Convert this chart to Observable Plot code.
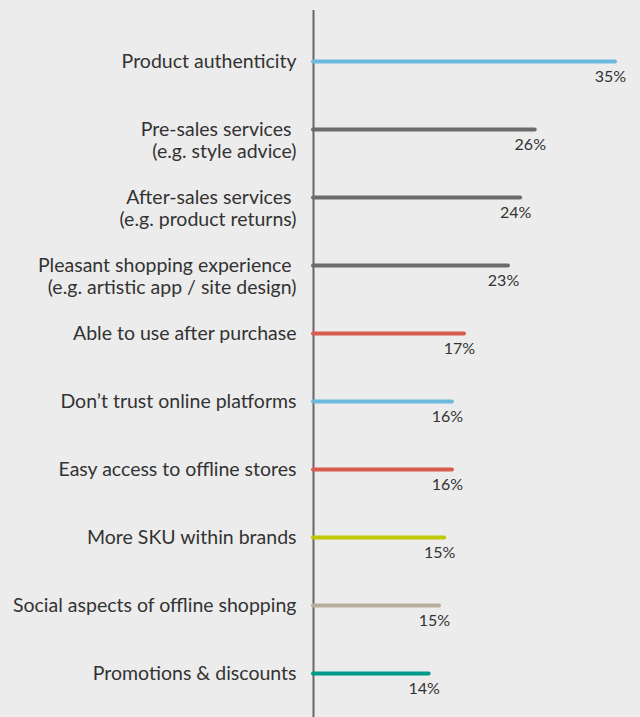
<!DOCTYPE html>
<html>
<head>
<meta charset="utf-8">
<script src="https://cdn.jsdelivr.net/npm/d3@7"></script>
<script src="https://cdn.jsdelivr.net/npm/@observablehq/plot@0.6"></script>
<style>
  html, body { margin: 0; padding: 0; background: #ececec; }
  #chart svg { display: block; background: #ececec; }
</style>
</head>
<body>
<div id="chart"></div>
<script>
const categories = [
  "Product authenticity",
  "Pre-sales services\u00a0\n(e.g. style advice)",
  "After-sales services\u00a0\n(e.g. product returns)",
  "Pleasant shopping experience\u00a0\n(e.g. artistic app / site design)",
  "Able to use after purchase",
  "Don\u2019t trust online platforms",
  "Easy access to offline stores",
  "More SKU within brands",
  "Social aspects of offline shopping",
  "Promotions & discounts"
];
const values = [35.0, 25.7, 24.0, 22.6, 17.5, 16.1, 16.1, 15.2, 14.6, 13.4];
const valueLabels = ["35%", "26%", "24%", "23%", "17%", "16%", "16%", "15%", "15%", "14%"];
const barColors = ["#6cb9dc", "#6b6b6b", "#6b6b6b", "#6b6b6b", "#d95a4e", "#6cb9dc", "#d95a4e", "#bfc800", "#b8ad9d", "#00998a"];

const data = categories.map((c, i) => ({cat: c, value: values[i], label: valueLabels[i], color: barColors[i]}));

const chart = Plot.plot({
  width: 640,
  height: 717,
  marginLeft: 313,
  marginRight: 25,
  marginTop: 10,
  marginBottom: 0,
  insetTop: 51,
  insetBottom: 44,
  style: {fontFamily: "Lato, sans-serif", background: "#ececec"},
  x: {domain: [0, 35], axis: null},
  y: {type: "point", domain: categories, padding: 0, axis: null},
  marks: [
    Plot.ruleX([0], {stroke: "#666666", strokeWidth: 2}),
    Plot.ruleY(data, {y: "cat", x1: 0, x2: "value", stroke: "color", strokeWidth: 4, strokeLinecap: "round"}),
    Plot.text(data, {x: "value", y: "cat", text: "label", dx: -5, dy: 15, textAnchor: "middle", fontSize: 16, fill: "#333333"}),
    Plot.text(data, {x: 0, y: "cat", text: d => d.cat.split("\n")[0], dx: -17, textAnchor: "end", fontSize: 19.5, fill: "#333333"}),
    Plot.text(data, {x: 0, y: "cat", text: d => d.cat.split("\n")[1] || "", dx: -17, dy: 22, textAnchor: "end", fontSize: 19.5, fill: "#333333"})
  ]
});
document.getElementById("chart").appendChild(chart);
</script>
</body>
</html>
